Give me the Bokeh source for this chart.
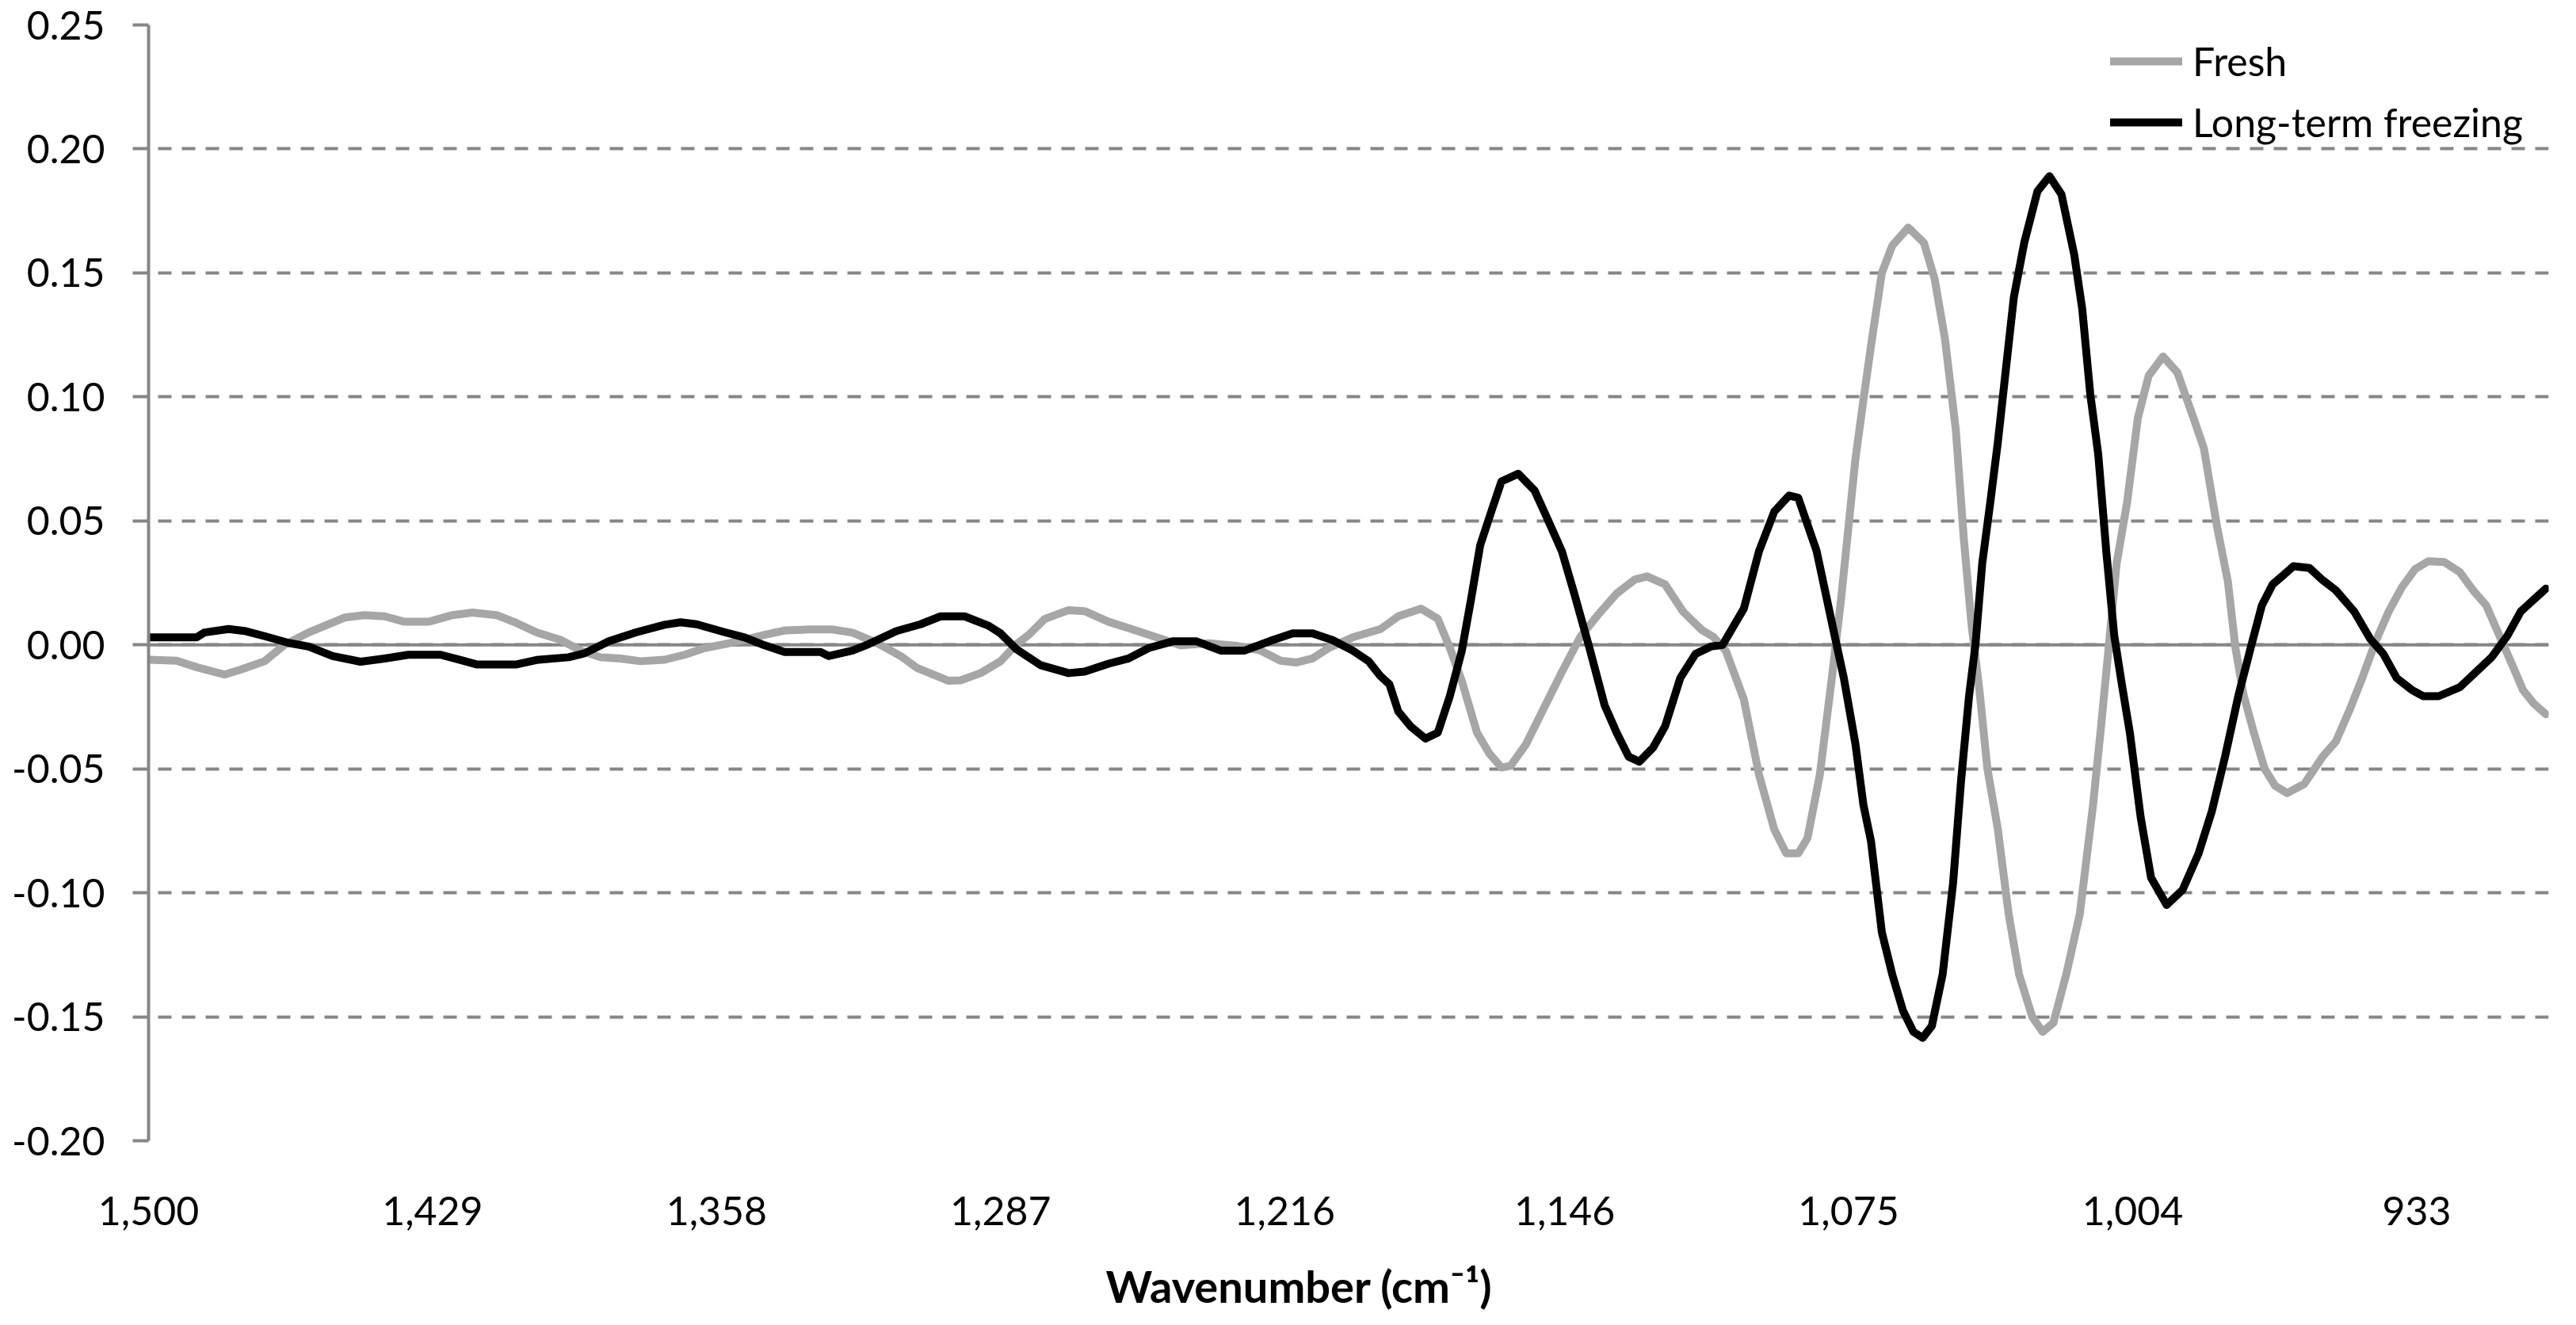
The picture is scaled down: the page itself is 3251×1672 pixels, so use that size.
from bokeh.plotting import figure
from bokeh.models import Range1d, FixedTicker, NumeralTickFormatter, Legend, LegendItem, Title, Span
from bokeh.embed import file_html
from bokeh.resources import INLINE

# ---- data ----
wn_fresh = [1500, 1493, 1488, 1481, 1477, 1471, 1466, 1460, 1451, 1446,
            1441, 1436, 1430, 1424, 1419, 1413, 1408, 1403, 1397, 1392,
            1387, 1382, 1377, 1371, 1366, 1361, 1356, 1351, 1346, 1341,
            1335, 1329, 1324, 1318, 1312, 1308, 1300, 1297, 1292, 1287,
            1283, 1280, 1276, 1270, 1266, 1260, 1254, 1248, 1242, 1235,
            1228, 1222, 1217, 1213, 1209, 1205, 1199, 1192, 1187.6, 1181.9,
            1177.7, 1174.7, 1171.7, 1167.9, 1164.8, 1161.8, 1159.5, 1155.7, 1151.2, 1146.7,
            1142.1, 1137.6, 1133.0, 1128.5, 1125.4, 1120.9, 1116.4, 1111.8, 1108.8, 1105.7,
            1101.2, 1097.4, 1093.6, 1090.6, 1087.6, 1085.3, 1082.2, 1079.2, 1076.9, 1073.3,
            1071.3, 1069.4, 1066.7, 1064.1, 1060.1, 1056.2, 1053.5, 1050.9, 1048.2, 1046.2,
            1044.3, 1042.3, 1040.3, 1037.7, 1035.0, 1032.4, 1029.1, 1026.5, 1023.8, 1020.6,
            1017.2, 1013.9, 1011.9, 1010.0, 1008.0, 1005.4, 1002.7, 1000.0, 996.4, 992.8,
            988.8, 986.2, 982.9, 980.2, 978.3, 976.3, 973.7, 971.0, 968.4, 965.4,
            961.1, 956.5, 953.2, 949.9, 946.6, 943.3, 940.0, 936.7, 933.4, 930.1,
            926.1, 922.2, 918.9, 915.6, 912.3, 909.0, 906.4, 903.7, 900.7]
fresh = [-0.006, -0.0064, -0.009, -0.012, -0.010, -0.0066, 0.000, 0.005, 0.011, 0.012,
         0.0115, 0.0093, 0.0093, 0.012, 0.013, 0.012, 0.0088, 0.005, 0.002, -0.0023,
         -0.005, -0.0055, -0.0066, -0.006, -0.004, -0.0013, 0.0003, 0.002, 0.004, 0.0058,
         0.0062, 0.0062, 0.0049, 0.0008, -0.0045, -0.0092, -0.0145, -0.0143, -0.0114, -0.0066,
         0.0003, 0.004, 0.0104, 0.014, 0.0136, 0.0093, 0.0062, 0.003, -0.0002, 0.0006,
         -0.0004, -0.0023, -0.0064, -0.0071, -0.0055, -0.0013, 0.003, 0.0064, 0.0115, 0.0146,
         0.0105, -0.0012, -0.0146, -0.0354, -0.0439, -0.0495, -0.0488, -0.0402, -0.0256, -0.011,
         0.0032, 0.0122, 0.0207, 0.0263, 0.0276, 0.0244, 0.0134, 0.0061, 0.0032, -0.0024,
         -0.022, -0.0524, -0.0744, -0.0841, -0.0841, -0.078, -0.0524, -0.0134, 0.0183, 0.075,
         0.0988, 0.1207, 0.150, 0.161, 0.1683, 0.1622, 0.1476, 0.1232, 0.0866, 0.0427,
         0.0085, -0.0183, -0.050, -0.0744, -0.1085, -0.1329, -0.150, -0.1561, -0.1524, -0.1329,
         -0.1085, -0.0646, -0.0329, -0.0012, 0.0329, 0.0573, 0.0915, 0.1085, 0.1163, 0.1098,
         0.0915, 0.0793, 0.0476, 0.0256, -0.0012, -0.020, -0.0354, -0.050, -0.0568, -0.0598,
         -0.0561, -0.0451, -0.039, -0.0268, -0.0134, 0.0012, 0.0134, 0.0232, 0.0305, 0.0337,
         0.0334, 0.0293, 0.022, 0.0159, 0.0037, -0.0085, -0.0183, -0.0237, -0.028]

wn_long = [1500, 1488, 1486, 1480, 1476, 1471, 1465, 1460, 1454, 1447,
           1441, 1435, 1427, 1422, 1418, 1408, 1403, 1395, 1391, 1385,
           1378, 1371, 1367, 1363, 1356, 1351, 1346, 1341, 1332, 1330,
           1324, 1320, 1313, 1307, 1302, 1296, 1290, 1287, 1283, 1277,
           1270, 1266, 1260, 1255, 1250, 1244, 1238, 1232, 1226, 1219,
           1214, 1209, 1204, 1199, 1195, 1192.1, 1189.8, 1187.6, 1184.5, 1180.8,
           1177.7, 1174.7, 1171.7, 1169.4, 1167.1, 1164.1, 1161.8, 1157.6, 1153.5, 1150.4,
           1146.7, 1143.6, 1139.8, 1136.0, 1133.0, 1130.0, 1127.3, 1123.9, 1120.9, 1117.1,
           1113.3, 1109.5, 1106.5, 1101.2, 1097.4, 1093.6, 1089.9, 1087.6, 1083.0, 1078.5,
           1076.2, 1073.3, 1071.3, 1069.4, 1066.7, 1064.1, 1061.4, 1058.8, 1056.5, 1054.2,
           1051.5, 1048.9, 1046.9, 1044.9, 1043.3, 1041.6, 1039.6, 1037.7, 1035.7, 1033.7,
           1031.1, 1027.8, 1024.8, 1021.8, 1018.6, 1016.6, 1014.6, 1012.6, 1010.6, 1008.6,
           1006.7, 1004.7, 1002.0, 999.4, 995.5, 991.5, 987.5, 984.2, 980.9, 977.6,
           974.3, 971.7, 969.0, 966.4, 963.8, 959.8, 956.5, 953.2, 948.6, 944.6,
           941.3, 938.0, 934.1, 931.4, 927.5, 922.2, 918.2, 914.2, 910.3, 907.0,
           903.7, 900.7]
long_term = [0.003, 0.003, 0.005, 0.0064, 0.0056, 0.0035, 0.0008, -0.0007, -0.0045, -0.0068,
             -0.0055, -0.004, -0.004, -0.0061, -0.0079, -0.0079, -0.0061, -0.005, -0.0034, 0.0014,
             0.0051, 0.0081, 0.0091, 0.0083, 0.0051, 0.003, -0.0002, -0.0029, -0.0029, -0.0045,
             -0.0023, 0.0003, 0.0056, 0.0083, 0.0115, 0.0115, 0.0077, 0.0046, -0.0018, -0.0082,
             -0.0114, -0.0108, -0.0076, -0.0055, -0.0013, 0.0014, 0.0014, -0.0023, -0.0023, 0.0019,
             0.0046, 0.0046, 0.0019, -0.0023, -0.0066, -0.0125, -0.0159, -0.0268, -0.0329, -0.0378,
             -0.0354, -0.0207, -0.0024, 0.0183, 0.0402, 0.0549, 0.0659, 0.069, 0.0622, 0.0512,
             0.0378, 0.0207, -0.0012, -0.0244, -0.0354, -0.0451, -0.0471, -0.0415, -0.0329, -0.0134,
             -0.0037, -0.0007, 0.000, 0.0146, 0.0378, 0.0537, 0.0602, 0.0593, 0.0378, 0.0037,
             -0.0134, -0.040, -0.0646, -0.0793, -0.1159, -0.1329, -0.1476, -0.1561, -0.1585, -0.1537,
             -0.1329, -0.0963, -0.0549, -0.0207, 0.000, 0.0329, 0.0573, 0.0817, 0.111, 0.1402,
             0.1622, 0.1829, 0.189, 0.1817, 0.1573, 0.1354, 0.1012, 0.0768, 0.0378, 0.0037,
             -0.0159, -0.0354, -0.0695, -0.0939, -0.1049, -0.0988, -0.0841, -0.0671, -0.0451, -0.0207,
             0.000, 0.0159, 0.0244, 0.028, 0.0317, 0.031, 0.0261, 0.022, 0.0134, 0.0024,
             -0.0037, -0.0134, -0.0183, -0.0207, -0.0207, -0.0171, -0.011, -0.0049, 0.0037, 0.0134,
             0.0183, 0.0227]

x_ticks = [1500, 1429, 1358, 1287, 1216, 1146, 1075, 1004, 933]
y_ticks = [-0.20, -0.15, -0.10, -0.05, 0.00, 0.05, 0.10, 0.15, 0.20, 0.25]
series_names = ["Fresh", "Long-term freezing"]
x_title = "Wavenumber (cm\u207b\u00b9)"

FONT = "Lato"
GRID = "#868686"

p = figure(width=3234, height=1655, output_backend="svg", toolbar_location=None,
           x_range=Range1d(1500, 900), y_range=Range1d(-0.20, 0.25),
           min_border_left=187, min_border_right=18, min_border_top=31,
           min_border_bottom=215)
p.outline_line_color = None
p.background_fill_color = "white"
p.border_fill_color = "white"

# grid
p.xgrid.visible = False
p.ygrid.grid_line_color = GRID
p.ygrid.grid_line_width = 4
p.ygrid.grid_line_dash = "17 13"

# y axis
p.yaxis.ticker = FixedTicker(ticks=y_ticks)
p.yaxis.formatter = NumeralTickFormatter(format="0.00")
p.yaxis.axis_line_color = GRID
p.yaxis.axis_line_width = 4
p.yaxis.major_tick_line_color = GRID
p.yaxis.major_tick_line_width = 4
p.yaxis.major_tick_out = 20
p.yaxis.major_tick_in = 0
p.yaxis.minor_tick_line_color = None
p.yaxis.major_label_standoff = 35
p.yaxis.major_label_text_font = FONT
p.yaxis.major_label_text_font_size = "50px"
p.yaxis.major_label_text_color = "black"

# x axis
p.xaxis.ticker = FixedTicker(ticks=x_ticks)
p.xaxis.formatter = NumeralTickFormatter(format="0,0")
p.xaxis.axis_line_color = None
p.xaxis.major_tick_line_color = None
p.xaxis.minor_tick_line_color = None
p.xaxis.major_tick_out = 0
p.xaxis.major_label_standoff = 70
p.xaxis.major_label_text_font = FONT
p.xaxis.major_label_text_font_size = "50px"
p.xaxis.major_label_text_color = "black"
# small blank spacer below the tick labels, to push the title down
p.xaxis.axis_label = " "
p.xaxis.axis_label_text_font_size = "10px"
p.xaxis.axis_label_standoff = 24

# zero (category) axis line
zero = Span(location=0, dimension="width", line_color=GRID, line_width=4, level="underlay")
p.add_layout(zero)

r1 = p.line(wn_fresh, fresh, line_color="#A6A6A6", line_width=10,
            line_join="round", line_cap="round")
r2 = p.line(wn_long, long_term, line_color="#000000", line_width=10,
            line_join="round", line_cap="round")

legend = Legend(items=[LegendItem(label=series_names[0], renderers=[r1]),
                       LegendItem(label=series_names[1], renderers=[r2])],
                location=(2476, 1255))
legend.label_text_font = FONT
legend.label_text_font_size = "50px"
legend.label_text_color = "black"
legend.glyph_width = 91
legend.glyph_height = 20
legend.label_standoff = 13
legend.spacing = 17
legend.padding = 0
legend.margin = 0
legend.border_line_color = None
legend.background_fill_alpha = 0
p.add_layout(legend)

title = Title(text=x_title, align="left", offset=1208, standoff=0,
              text_font=FONT, text_font_style="bold", text_font_size="56px",
              text_color="black")
p.add_layout(title, "below")

open("out.html", "w").write(file_html(p, INLINE))
